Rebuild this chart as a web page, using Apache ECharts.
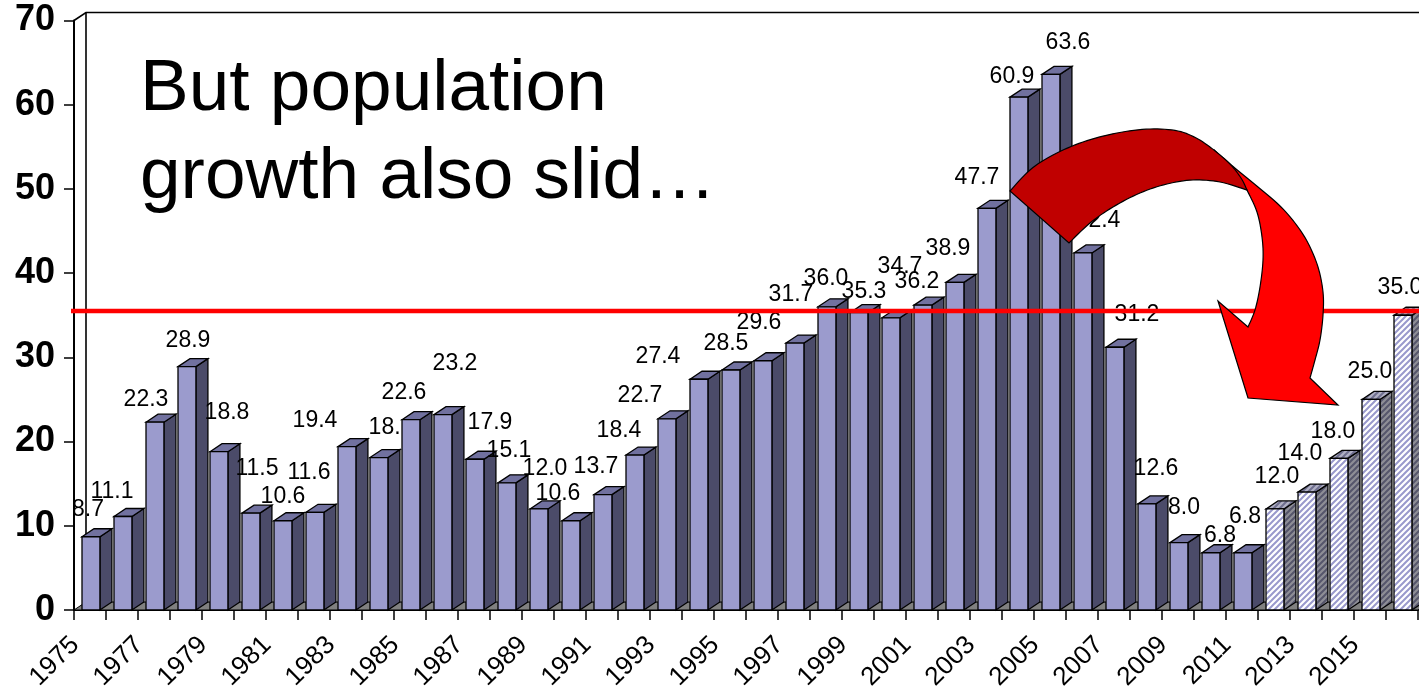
<!DOCTYPE html>
<html>
<head>
<meta charset="utf-8">
<script src="https://cdn.jsdelivr.net/npm/echarts@6/dist/echarts.min.js"></script>
<style>
html,body{margin:0;padding:0;background:#ffffff;}
#chart{width:1419px;height:689px;}
</style>
</head>
<body>
<div id="chart"></div>
<script>
// ---- data ----
const years = ['1975','1976','1977','1978','1979','1980','1981','1982','1983','1984',
  '1985','1986','1987','1988','1989','1990','1991','1992','1993','1994',
  '1995','1996','1997','1998','1999','2000','2001','2002','2003','2004',
  '2005','2006','2007','2008','2009','2010','2011','2012','2013','2014','2015','2016'];
const actualValues = [8.7, 11.1, 22.3, 28.9, 18.8, 11.5, 10.6, 11.6, 19.4, 18.1,
  22.6, 23.2, 17.9, 15.1, 12.0, 10.6, 13.7, 18.4, 22.7, 27.4,
  28.5, 29.6, 31.7, 36.0, 35.3, 34.7, 36.2, 38.9, 47.7, 60.9,
  63.6, 42.4, 31.2, 12.6, 8.0, 6.8, 6.8];
const forecastValues = [12.0, 14.0, 18.0, 25.0, 35.0];
const referenceLevel = 35.5;
const yTicks = [0, 10, 20, 30, 40, 50, 60, 70];

// label nudges (pixels, relative to bar top centre) - layout only
const labelOffsets = [[-2,-27],[-10,-25],[-8,-23],[2,-26],[9,-39],[7,-44],[1,-24],[-5,-40],[-31,-26],[13,-30],
  [-6,-27],[13,-51],[16,-37],[3,-32],[7,-40],[-12,-27],[-6,-28],[-15,-24],[-26,-23],[-40,-23],
  [-4,-26],[-3,-38],[-3,-48],[0,-28],[6,-21],[10,-51],[-5,-23],[-6,-34],[-9,-31],[-6,-20],
  [18,-32],[16,-32],[23,-33],[10,-35],[6,-35],[10,-17],[3,-36],[3,-32],[-6,-38],[-5,-27],
  [0,-28],[-2,-28]];

const FONT = '"Liberation Sans", Arial, Helvetica, sans-serif';

function stripes(bg, fg, n, lw) {
  const cv = document.createElement('canvas');
  cv.width = n; cv.height = n;
  const g = cv.getContext('2d');
  g.fillStyle = bg; g.fillRect(0, 0, n, n);
  g.strokeStyle = fg; g.lineWidth = lw;
  g.beginPath();
  g.moveTo(-1, n + 1); g.lineTo(n + 1, -1);
  g.moveTo(-2, 2); g.lineTo(2, -2);
  g.moveTo(n - 2, n + 2); g.lineTo(n + 2, n - 2);
  g.stroke();
  return { image: cv, repeat: 'repeat' };
}

const solidFill = { front: '#9b9bcd', side: '#4b4b69', top: '#71719f' };
const hatchFill = {
  front: stripes('#ffffff', '#9999cc', 6, 2),
  side: stripes('#8e8e96', '#55556b', 6, 2),
  top: stripes('#b0b0c4', '#6f6f8f', 6, 2)
};

const barData = years.map(function (y, i) {
  const isFc = i >= actualValues.length;
  return [i, isFc ? forecastValues[i - actualValues.length] : actualValues[i], isFc ? 1 : 0];
});

function renderBar(params, api) {
  const i = api.value(0), v = api.value(1), fc = api.value(2);
  const b = api.coord([i, 0]);
  const t = api.coord([i, v]);
  const w = api.size([1, 0])[0];
  const c = b[0], y0 = b[1], yt = t[1];
  const x0 = c - 0.25 * w, x1 = c + 0.31 * w, dx = 0.375 * w, dy = 0.25 * w;
  const f = fc ? hatchFill : solidFill;
  const off = labelOffsets[i] || [0, -28];
  return {
    type: 'group',
    children: [
      { type: 'polygon', shape: { points: [[x1, y0], [x1 + dx, y0 - dy], [x1 + dx, yt - dy], [x1, yt]] },
        style: { fill: f.side, stroke: '#000', lineWidth: 1.3 } },
      { type: 'polygon', shape: { points: [[x0, yt], [x0 + dx, yt - dy], [x1 + dx, yt - dy], [x1, yt]] },
        style: { fill: f.top, stroke: '#000', lineWidth: 1.3 } },
      { type: 'rect', shape: { x: x0, y: yt, width: x1 - x0, height: y0 - yt },
        style: { fill: f.front, stroke: '#000', lineWidth: 1.3 } },
      { type: 'text', x: c + off[0], y: yt + off[1],
        style: { text: v.toFixed(1), fontSize: 23, fontFamily: FONT, fill: '#000',
                 align: 'center', verticalAlign: 'middle' } }
    ]
  };
}

function renderFrame(params, api) {
  const cs = params.coordSys;
  const w = api.size([1, 0])[0];
  const dx = 0.375 * w, dy = 0.25 * w;
  const L = cs.x, R = cs.x + cs.width, T = cs.y, B = cs.y + cs.height;
  return {
    type: 'group',
    children: [
      { type: 'polygon', shape: { points: [[L, B], [L + dx, B - dy], [R + dx, B - dy], [R, B]] },
        style: { fill: '#808080', stroke: '#000', lineWidth: 1 } },
      { type: 'polyline', shape: { points: [[L, T], [L + dx, T - dy], [R + dx + 40, T - dy]] },
        style: { stroke: '#000', lineWidth: 1.6, fill: null } },
      { type: 'line', shape: { x1: L + dx, y1: T - dy, x2: L + dx, y2: B - dy },
        style: { stroke: '#000', lineWidth: 1.6 } }
    ]
  };
}

function renderRef(params, api) {
  const cs = params.coordSys;
  const y = api.coord([0, api.value(1)])[1];
  return { type: 'line', shape: { x1: cs.x - 3, y1: y, x2: cs.x + cs.width + 40, y2: y },
           style: { stroke: '#ff0000', lineWidth: 4.5 } };
}

// smooth curve sampling (Catmull-Rom) for the decorative arrow
function sampleCurve(pts, steps) {
  const out = [];
  for (let k = 0; k < pts.length - 1; k++) {
    const p0 = pts[k - 1] || pts[k], p1 = pts[k], p2 = pts[k + 1], p3 = pts[k + 2] || pts[k + 1];
    for (let s = 0; s < steps; s++) {
      const t = s / steps, t2 = t * t, t3 = t2 * t;
      const fx = 0.5 * ((2 * p1[0]) + (-p0[0] + p2[0]) * t + (2 * p0[0] - 5 * p1[0] + 4 * p2[0] - p3[0]) * t2 + (-p0[0] + 3 * p1[0] - 3 * p2[0] + p3[0]) * t3);
      const fy = 0.5 * ((2 * p1[1]) + (-p0[1] + p2[1]) * t + (2 * p0[1] - 5 * p1[1] + 4 * p2[1] - p3[1]) * t2 + (-p0[1] + 3 * p1[1] - 3 * p2[1] + p3[1]) * t3);
      out.push([fx, fy]);
    }
  }
  out.push(pts[pts.length - 1]);
  return out;
}

const brightOuter = [[1214,150],[1236,169],[1258,187],[1279,205],[1295,223],[1308,243],[1318,267],[1323,292],[1323,315],[1320,340],[1315,360],[1310,378]];
const arrowHead = [[1338,405],[1248,398],[1218,301]];
const brightInner = [[1248,327],[1255,310],[1260,287],[1263,260],[1262,237],[1257,212],[1247,190]];
const darkOuter = [[1010,191],[1030,170],[1053,155],[1083,142],[1117,133],[1150,129],[1178,131],[1198,139],[1214,150]];
const darkInner = [[1247,190],[1220,182],[1193,180],[1167,184],[1140,193],[1113,207],[1090,223],[1069,243]];

const brightPoly = sampleCurve(brightOuter, 8).concat(arrowHead, sampleCurve(brightInner, 8));
const seam = [[1214,150],[1230,164],[1241,178],[1247,190]];
const darkPoly = sampleCurve(darkOuter, 8).concat(sampleCurve(seam, 6).slice(1), sampleCurve(darkInner, 8).slice(1));

const chart = echarts.init(document.getElementById('chart'), null, { renderer: 'canvas' });
chart.setOption({
  animation: false,
  backgroundColor: '#ffffff',
  grid: { left: 74, right: 1, top: 20.5, bottom: 79, containLabel: false, outerBoundsMode: 'none' },
  xAxis: {
    type: 'category',
    data: years,
    boundaryGap: true,
    axisLine: { show: true, lineStyle: { color: '#000', width: 2 } },
    axisTick: { show: true, interval: 0, length: 10, lineStyle: { color: '#000', width: 1.5 } },
    axisLabel: { interval: 1, rotate: 45, fontSize: 26, fontFamily: FONT, color: '#000',
                 margin: 16, padding: [0, 21, 0, 0] },
    splitLine: { show: false }
  },
  yAxis: {
    type: 'value',
    min: yTicks[0], max: yTicks[yTicks.length - 1], interval: 10,
    axisLine: { show: true, lineStyle: { color: '#000', width: 2 } },
    axisTick: { show: true, length: 10, lineStyle: { color: '#000', width: 1.5 } },
    axisLabel: { fontSize: 36, fontWeight: 'bold', fontFamily: FONT, color: '#000', margin: 19 },
    splitLine: { show: false }
  },
  series: [
    { type: 'custom', name: 'frame', renderItem: renderFrame, data: [[0, 0]], z: 1, silent: true },
    { type: 'custom', name: 'growth', renderItem: renderBar, data: barData,
      encode: { x: 0, y: 1 }, z: 3, clip: false },
    { type: 'custom', name: 'reference', renderItem: renderRef, data: [[0, referenceLevel]],
      encode: { x: 0, y: 1 }, z: 5, silent: true }
  ],
  graphic: [
    { type: 'text', left: 140, top: 46, z: 20,
      style: { text: 'But population\ngrowth also slid\u2026', fontSize: 73, fontFamily: FONT,
               fill: '#000', lineHeight: 88 } },
    { type: 'polygon', z: 30, shape: { points: brightPoly },
      style: { fill: '#ff0000', stroke: '#000', lineWidth: 1.2 } },
    { type: 'polygon', z: 31, shape: { points: darkPoly },
      style: { fill: '#c00000', stroke: '#000', lineWidth: 1.2 } }
  ]
});
</script>
</body>
</html>
